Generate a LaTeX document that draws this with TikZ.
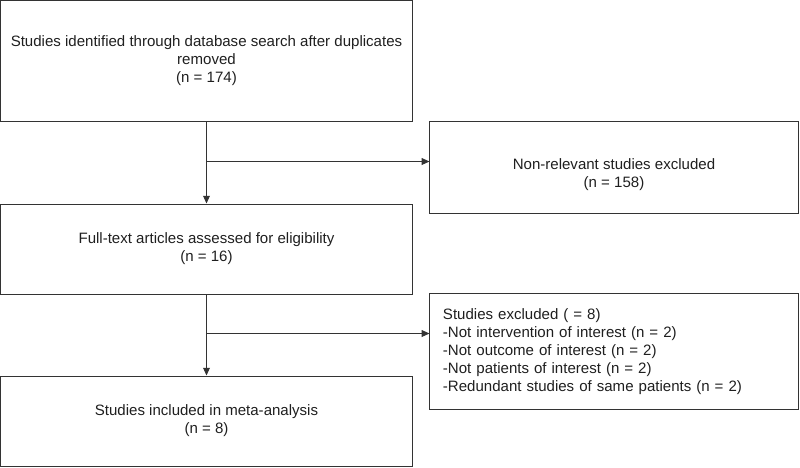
\documentclass[tikz,border=0pt]{standalone}
\usepackage{fontspec}
\setmainfont{Liberation Sans}
\usetikzlibrary{calc,arrows.meta}

\begin{document}
\begin{tikzpicture}[x=0.025cm,y=-0.025cm,
   txt/.style={font=\fontsize{10.7}{12.8}\selectfont,text=black!88,align=center},
   box/.style={draw=black!80,line width=0.7pt,inner sep=0pt,txt},
   flow/.style={draw=black!80,line width=0.7pt,-{Triangle[length=5.5pt,width=4.8pt]}}]

   \useasboundingbox (0,0) rectangle (800,467);

   \coordinate (c1) at (206.5,61);
   \coordinate (c2) at (614,167.5);
   \coordinate (c3) at (206.5,249);
   \coordinate (c4) at (614,351.5);
   \coordinate (c5) at (206.5,421);

   \node[box,minimum width=10.275cm,minimum height=3cm] (ident) at (c1)
      {Studies identified through database search after duplicates\\removed\\(n = 174)};
   \node[box,minimum width=9.2cm,minimum height=2.275cm] (nonrel) at (c2) {};
   \node[txt] (nonreltxt) at ($(c2) + (0,7)$) {Non-relevant studies excluded\\(n = 158)};
   \node[box,minimum width=10.275cm,minimum height=2.25cm] (fulltext) at (c3)
      {Full-text articles assessed for eligibility\\(n = 16)};
   \node[box,minimum width=9.2cm,minimum height=2.875cm,text width=8.55cm,align=left] (excl) at (c4)
      {Studies excluded ( = 8)\\
       -Not intervention of interest (n = 2)\\
       -Not outcome of interest (n = 2)\\
       -Not patients of interest (n = 2)\\
       -Redundant studies of same patients (n = 2)};
   \node[box,minimum width=10.275cm,minimum height=2.25cm] (incl) at (c5)
      {Studies included in meta-analysis\\(n = 8)};

   \coordinate (j1) at ($(ident.south) + (0,40)$);
   \coordinate (j2) at ($(fulltext.south) + (0,39)$);

   \draw[flow] (ident) -- (fulltext);
   \draw[flow] (j1) -- (j1 -| nonrel.west);
   \draw[flow] (fulltext) -- (incl);
   \draw[flow] (j2) -- (j2 -| excl.west);

\end{tikzpicture}
\end{document}
